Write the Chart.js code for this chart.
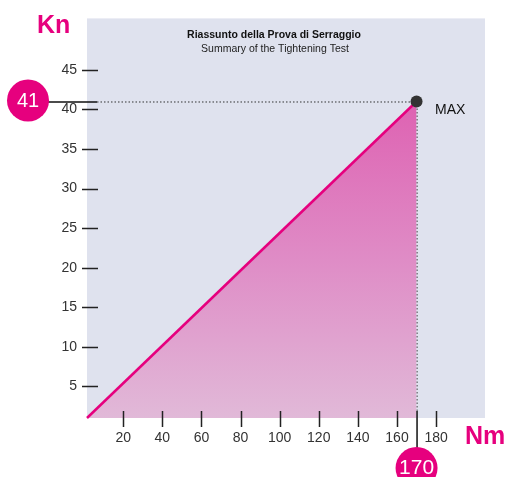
<!DOCTYPE html>
<html>
<head>
<meta charset="utf-8">
<script src="https://cdn.jsdelivr.net/npm/chart.js@4.4.0/dist/chart.umd.min.js"></script>
<style>
  html, body { margin: 0; padding: 0; background: #fff; }
  #wrap { width: 505px; height: 477px; }
</style>
</head>
<body>
<div id="wrap"><canvas id="chart" width="505" height="477"></canvas></div>
<script>
'use strict';

// values
const torqueNm = [1.5, 170];
const forceKn = [1, 41];
const xTickValues = [20, 40, 60, 80, 100, 120, 140, 160, 180];
const yTickValues = [5, 10, 15, 20, 25, 30, 35, 40, 45];
const maxTorque = 170;
const maxForce = 41;
const titleLines = ['Riassunto della Prova di Serraggio', 'Summary of the Tightening Test'];

const MAGENTA = '#e6007e';
const FONT = "'Liberation Sans', Arial, sans-serif";

const decorPlugin = {
  id: 'decor',
  beforeDraw(chart) {
    const {ctx, chartArea: a} = chart;
    ctx.save();
    ctx.fillStyle = '#fff';
    ctx.fillRect(0, 0, chart.width, chart.height);
    ctx.fillStyle = '#dfe2ee';
    ctx.fillRect(a.left, a.top, a.right - a.left, a.bottom - a.top);
    ctx.restore();
  },
  beforeDatasetsDraw(chart) {
    const {ctx, chartArea: a, scales: {x, y}} = chart;
    const px = x.getPixelForValue(maxTorque);
    const py = y.getPixelForValue(maxForce);
    ctx.save();
    ctx.strokeStyle = '#333';
    ctx.lineWidth = 1;
    ctx.setLineDash([1.5, 2]);
    ctx.beginPath();
    ctx.moveTo(a.left + 10, py + 0.5);
    ctx.lineTo(px, py + 0.5);
    ctx.moveTo(px + 0.5, py);
    ctx.lineTo(px + 0.5, a.bottom - 7);
    ctx.stroke();
    ctx.restore();
  },
  afterDatasetsDraw(chart) {
    const {ctx, chartArea: a, scales: {x, y}} = chart;
    const px = x.getPixelForValue(maxTorque);
    const py = y.getPixelForValue(maxForce);
    ctx.save();

    // tick marks crossing the plot edge
    ctx.strokeStyle = '#222';
    ctx.lineWidth = 1.5;
    ctx.beginPath();
    for (const v of yTickValues) {
      const ty = Math.round(y.getPixelForValue(v)) + 0.5;
      ctx.moveTo(a.left - 5, ty);
      ctx.lineTo(a.left + 11, ty);
    }
    for (const v of xTickValues) {
      const tx = Math.round(x.getPixelForValue(v)) + 0.5;
      ctx.moveTo(tx, a.bottom - 7);
      ctx.lineTo(tx, a.bottom + 9);
    }
    ctx.stroke();

    // solid leaders to the value badges
    ctx.strokeStyle = '#111';
    ctx.beginPath();
    ctx.moveTo(45, py + 0.5);
    ctx.lineTo(a.left + 10, py + 0.5);
    ctx.moveTo(px + 0.5, a.bottom - 7);
    ctx.lineTo(px + 0.5, 450);
    ctx.stroke();

    // badges
    ctx.fillStyle = MAGENTA;
    ctx.beginPath();
    ctx.arc(28, py - 1, 21, 0, Math.PI * 2);
    ctx.fill();
    ctx.beginPath();
    ctx.arc(px, 468, 21, 0, Math.PI * 2);
    ctx.fill();
    ctx.fillStyle = '#fff';
    ctx.textAlign = 'center';
    ctx.textBaseline = 'middle';
    ctx.font = '20px ' + FONT;
    ctx.fillText(String(maxForce), 28, py);
    ctx.font = '21px ' + FONT;
    ctx.fillText(String(maxTorque), px, 468);

    // axis names
    ctx.fillStyle = MAGENTA;
    ctx.textAlign = 'left';
    ctx.textBaseline = 'alphabetic';
    ctx.font = 'bold 25px ' + FONT;
    ctx.fillText('Kn', 37, 33);
    ctx.fillText('Nm', 465, 444);

    // MAX label
    ctx.fillStyle = '#111';
    ctx.font = '14px ' + FONT;
    ctx.textBaseline = 'middle';
    ctx.fillText('MAX', 435, 110);

    // title
    ctx.textAlign = 'center';
    ctx.fillStyle = '#111';
    ctx.font = 'bold 10.5px ' + FONT;
    ctx.fillText(titleLines[0], 274, 35);
    ctx.fillStyle = '#222';
    ctx.font = '10.5px ' + FONT;
    ctx.fillText(titleLines[1], 275, 49);

    ctx.restore();
  }
};

const ctx = document.getElementById('chart').getContext('2d');
const config = {
  type: 'line',
  data: {
    datasets: [{
      data: torqueNm.map((t, i) => ({x: t, y: forceKn[i]})),
      borderColor: MAGENTA,
      borderWidth: 2.5,
      fill: 'start',
      backgroundColor(context) {
        const a = context.chart.chartArea;
        if (!a) return 'rgba(224,120,190,0.8)';
        const g = context.chart.ctx.createLinearGradient(0, context.chart.scales.y.getPixelForValue(maxForce), 0, a.bottom);
        g.addColorStop(0, 'rgb(222,98,178)');
        g.addColorStop(0.5, 'rgb(223,140,198)');
        g.addColorStop(1, 'rgb(225,185,216)');
        return g;
      },
      pointRadius: [0, 6],
      pointHoverRadius: [0, 6],
      pointBackgroundColor: '#333',
      pointBorderWidth: 0,
      clip: false
    }]
  },
  options: {
    responsive: false,
    animation: false,
    devicePixelRatio: 1,
    layout: {padding: {top: 17, right: 20, left: 0, bottom: 0}},
    plugins: {legend: {display: false}, tooltip: {enabled: false}, title: {display: false}},
    scales: {
      x: {
        type: 'linear',
        min: 1.5,
        max: 205,
        grid: {display: false, drawTicks: false},
        border: {display: false},
        afterBuildTicks(scale) { scale.ticks = xTickValues.map(v => ({value: v})); },
        afterFit(scale) { scale.height = 59; },
        ticks: {
          autoSkip: false,
          maxRotation: 0,
          padding: 12,
          color: '#333',
          font: {family: FONT, size: 14}
        }
      },
      y: {
        type: 'linear',
        min: 1,
        max: 51.5,
        grid: {display: false, drawTicks: false},
        border: {display: false},
        afterBuildTicks(scale) { scale.ticks = yTickValues.map(v => ({value: v})); },
        afterFit(scale) { scale.width = 87; },
        ticks: {
          padding: 10,
          color: '#333',
          font: {family: FONT, size: 14}
        }
      }
    }
  },
  plugins: [decorPlugin]
};
new Chart(ctx, config);
</script>
</body>
</html>
